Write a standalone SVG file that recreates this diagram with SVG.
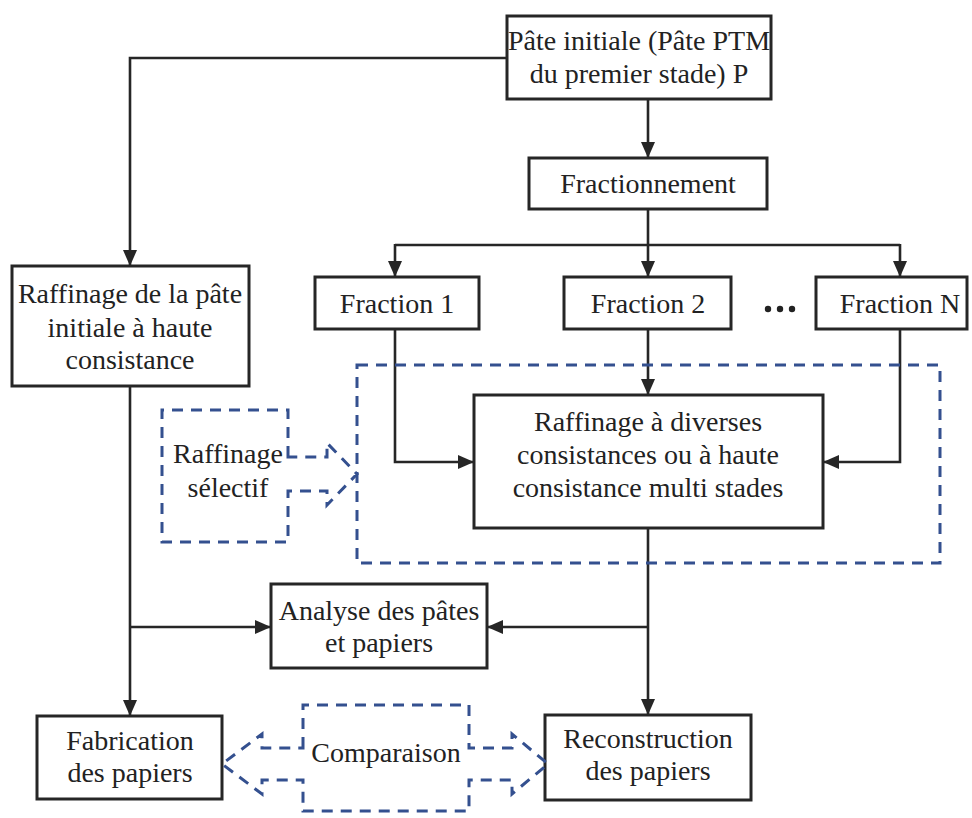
<svg xmlns="http://www.w3.org/2000/svg" width="972" height="818" viewBox="0 0 972 818">
<style>
  .box { fill: #ffffff; stroke: #262626; stroke-width: 3; }
  .t { font-family: "Liberation Serif", "Times New Roman", serif; font-size: 28px; fill: #222222; text-anchor: middle; }
  .c { fill: none; stroke: #262626; stroke-width: 2.6; }
  .dash { fill: none; stroke: #34508f; stroke-width: 3; stroke-dasharray: 11 8; }
</style>
<defs>
  <marker id="ah" markerUnits="userSpaceOnUse" markerWidth="16" markerHeight="14" refX="16" refY="7" orient="auto">
    <path d="M0,0 L16,7 L0,14 Z" fill="#262626"/>
  </marker>
</defs>
<rect width="972" height="818" fill="#ffffff"/>

<g id="connectors">
  <polyline class="c" points="507,58 130,58 130,266" marker-end="url(#ah)"/>
  <line class="c" x1="648" y1="99" x2="648" y2="158" marker-end="url(#ah)"/>
  <line class="c" x1="648" y1="209" x2="648" y2="277" marker-end="url(#ah)"/>
  <line class="c" x1="395" y1="245" x2="900" y2="245"/>
  <line class="c" x1="395" y1="244" x2="395" y2="277" marker-end="url(#ah)"/>
  <line class="c" x1="900" y1="244" x2="900" y2="277" marker-end="url(#ah)"/>
  <polyline class="c" points="395,329 395,462 474,462" marker-end="url(#ah)"/>
  <line class="c" x1="648" y1="329" x2="648" y2="395" marker-end="url(#ah)"/>
  <polyline class="c" points="900,329 900,462 823,462" marker-end="url(#ah)"/>
  <line class="c" x1="648" y1="528" x2="648" y2="715" marker-end="url(#ah)"/>
  <line class="c" x1="648" y1="627" x2="487" y2="627" marker-end="url(#ah)"/>
  <line class="c" x1="130" y1="386" x2="130" y2="716" marker-end="url(#ah)"/>
  <line class="c" x1="130" y1="627" x2="271" y2="627" marker-end="url(#ah)"/>
</g>

<g id="zone-raffinage">
  <rect class="dash" x="357" y="365" width="583" height="198"/>
</g>

<g id="pate-initiale">
  <rect class="box" x="507" y="16" width="264" height="83"/>
  <text class="t" x="639" y="50">Pâte initiale (Pâte PTM</text>
  <text class="t" x="639" y="83">du premier stade) P</text>
</g>

<g id="fractionnement">
  <rect class="box" x="529" y="158" width="238" height="51"/>
  <text class="t" x="648" y="193">Fractionnement</text>
</g>

<g id="fraction-1">
  <rect class="box" x="315" y="277" width="164" height="52"/>
  <text class="t" x="397" y="313">Fraction 1</text>
</g>

<g id="fraction-2">
  <rect class="box" x="564" y="277" width="167" height="52"/>
  <text class="t" x="648" y="313">Fraction 2</text>
</g>

<g id="dots">
  <circle cx="768" cy="309" r="3.2" fill="#222222"/>
  <circle cx="780" cy="309" r="3.2" fill="#222222"/>
  <circle cx="792" cy="309" r="3.2" fill="#222222"/>
</g>

<g id="fraction-n">
  <rect class="box" x="816" y="277" width="151" height="52"/>
  <text class="t" x="900" y="313">Fraction N</text>
</g>

<g id="raffinage-initiale">
  <rect class="box" x="12" y="266" width="237" height="120"/>
  <text class="t" x="130" y="303">Raffinage de la pâte</text>
  <text class="t" x="130" y="337">initiale à haute</text>
  <text class="t" x="130" y="369">consistance</text>
</g>

<g id="raffinage-diverses">
  <rect class="box" x="474" y="395" width="349" height="133"/>
  <text class="t" x="648" y="431">Raffinage à diverses</text>
  <text class="t" x="648" y="464">consistances ou à haute</text>
  <text class="t" x="648" y="497">consistance multi stades</text>
</g>

<g id="raffinage-selectif">
  <path class="dash" d="M288,457 V410 H162 V542 H288 V491 H327 V505 L357,474 L327,443 V457 Z"/>
  <text class="t" x="228" y="463">Raffinage</text>
  <text class="t" x="228" y="497">sélectif</text>
</g>

<g id="analyse">
  <rect class="box" x="271" y="584" width="216" height="84"/>
  <text class="t" x="379" y="620">Analyse des pâtes</text>
  <text class="t" x="379" y="652">et papiers</text>
</g>

<g id="fabrication">
  <rect class="box" x="37" y="716" width="185" height="83"/>
  <text class="t" x="130" y="750">Fabrication</text>
  <text class="t" x="130" y="782">des papiers</text>
</g>

<g id="reconstruction">
  <rect class="box" x="545" y="715" width="206" height="85"/>
  <text class="t" x="648" y="748">Reconstruction</text>
  <text class="t" x="648" y="780">des papiers</text>
</g>

<g id="comparaison">
  <path class="dash" d="M303,748 V705 H469 V748 H512 V734 L548,764 L512,794 V780 H469 V811 H303 V780 H262 V794 L222,764 L262,734 V748 Z"/>
  <text class="t" x="386" y="762">Comparaison</text>
</g>
</svg>
